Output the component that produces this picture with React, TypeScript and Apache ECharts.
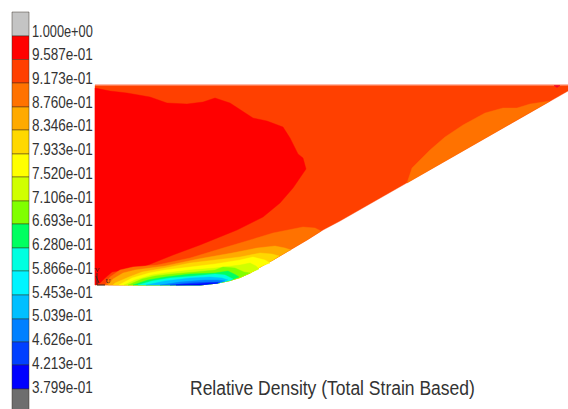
import React, { useEffect, useRef } from "react";
import * as echarts from "echarts";

type P = [number, number];

const legendLabels = ["1.000e+00","9.587e-01","9.173e-01","8.760e-01","8.346e-01","7.933e-01","7.520e-01","7.106e-01","6.693e-01","6.280e-01","5.866e-01","5.453e-01","5.039e-01","4.626e-01","4.213e-01","3.799e-01"];
const legendLabelY = [31,55,79,103,126,150,174,198,221,245,269,293,316,340,364,388];
const legendEdges = [12,36,59.5,83,107,130,154,177,201,224,248,271,295,319,342,365,389,410];
const legendColors = ["#c4c4c4","#ff0000","#ff4000","#ff7200","#ffaa00","#ffd800","#ffff00","#d0ff00","#80ff00","#00ff60","#00ffe0","#00f4ff","#00bfff","#0080ff","#0040ff","#0000ff","#6e6e6e"];

const edge: P[] = [[95,285],[200,285],[218,283],[230,280.5],[240,277.5],[250,273],[262,266],[273,260],[290,250],[307,240],[323,230],[340,221],[368,205],[568,91]];
const domainTop: P[] = [[95,85.5],[568,85.5]];

const redRegion: P[] = [[95,88],[110,91],[127,93],[150,97],[167,103],[187,104],[203,102],[215,98],[230,103],[253,118],[267,121],[283,127],[290,138],[298,154],[303,158],[306,169],[293,188],[280,203],[263,217],[237,230],[200,245],[173,255],[143,267],[123,270],[112,272],[105,278],[100,283],[95,285]];
const upperOrange: P[] = [[407,183],[412,168],[430,150],[445,137],[463,125],[485,113],[503,108],[517,108],[530,104],[550,101]];
const redSpot: P[] = [[554,85.5],[560,85.5],[557,87.5]];
const orangeBand: P[] = [[105,285],[110,277],[120,270],[133,267],[157,265],[190,258],[223,248],[240,243],[273,233],[303,227],[315,228],[321,231]];
const amberBand: P[] = [[108,285],[113,279],[123,273],[135,270],[150,268],[165,266],[198,259],[232,253],[257,248],[275,246],[285,248],[291,250]];
const goldBand: P[] = [[113,285],[115,283],[129,277],[142,272],[165,268],[190,263],[215,260],[240,257],[260,253],[272,254],[279,256]];
const yellowBand: P[] = [[119,285],[132,278],[149,273],[165,270],[190,267],[215,264],[240,260],[253,257],[265,260],[270,263]];
const limeBand: P[] = [[124,285],[135,280],[152,275],[165,273],[190,270],[215,268],[240,265],[250,263],[256,266],[259,269]];
const greenBand: P[] = [[128,285],[142,279],[155,276],[172,274],[195,272],[215,270],[223,267],[235,268],[244,272],[250,273]];
const springBand: P[] = [[133,285],[148,280],[165,277],[190,274],[215,273],[228,271],[236,275],[239,277]];
const tealBand: P[] = [[138,285],[152,281],[170,278],[195,276],[215,274],[225,275],[233,279]];
const skyBand: P[] = [[146,285],[165,281],[190,278],[210,277],[222,278],[228,280]];
const azureBand: P[] = [[160,285],[180,282],[205,280],[218,280],[225,281]];
const royalBand: P[] = [[170,285],[190,283],[210,282],[220,282]];
const blueBand: P[] = [[176,285],[198,284],[212,283],[218,283]];

const closeAlongEdge = (curve: P[]): P[] => {
  const a = curve[0][0], b = curve[curve.length - 1][0];
  return [...curve, ...edge.filter((p) => p[0] > a && p[0] < b).reverse()];
};

const regions: { pts: P[]; color: string }[] = [
  { pts: [...domainTop, ...[...edge].reverse()], color: "#ff4000" },
  { pts: redRegion, color: "#ff0000" },
  { pts: redSpot, color: "#f00030" },
  { pts: closeAlongEdge(upperOrange), color: "#ff7200" },
  { pts: closeAlongEdge(orangeBand), color: "#ff7200" },
  { pts: closeAlongEdge(amberBand), color: "#ffaa00" },
  { pts: closeAlongEdge(goldBand), color: "#ffd800" },
  { pts: closeAlongEdge(yellowBand), color: "#ffff00" },
  { pts: closeAlongEdge(limeBand), color: "#d0ff00" },
  { pts: closeAlongEdge(greenBand), color: "#80ff00" },
  { pts: closeAlongEdge(springBand), color: "#00ff60" },
  { pts: closeAlongEdge(tealBand), color: "#00ffe0" },
  { pts: closeAlongEdge(skyBand), color: "#00bfff" },
  { pts: closeAlongEdge(azureBand), color: "#0080ff" },
  { pts: closeAlongEdge(royalBand), color: "#0040ff" },
  { pts: closeAlongEdge(blueBand), color: "#0000ff" },
];

const topEdgeLine: P[] = [[95,84.5],[568,84.5]];
const triadLines: P[][] = [[[97,273],[97,285],[105,285]],[[96,276],[99,283]]];
const triadLabels: { t: string; at: P }[] = [{ t: "V", at: [97,270] }, { t: "U", at: [108,281] }];
const titleText = "Relative Density (Total Strain Based)";
const titleAt: P = [190, 388];
const barX: P = [12, 29];
const labelX = 32;

export default function App() {
  const ref = useRef<HTMLDivElement>(null);
  useEffect(() => {
    document.body.style.margin = "0";
    document.body.style.background = "#ffffff";
    const chart = echarts.init(ref.current!, undefined, { renderer: "svg" });
    const poly = (api: any, pts: P[], color: string) => ({
      type: "polygon",
      shape: { points: pts.map((p) => api.coord(p)) },
      style: { fill: color, stroke: color, lineWidth: 0.4 },
    });
    const line = (api: any, pts: P[], color: string, w: number) => ({
      type: "polyline",
      shape: { points: pts.map((p) => api.coord(p)) },
      style: { stroke: color, lineWidth: w, fill: "none" },
    });
    chart.setOption({
      animation: false,
      backgroundColor: "#ffffff",
      grid: { left: 0, top: 0, width: 568, height: 409, containLabel: false },
      xAxis: { type: "value", min: 0, max: 568, show: false },
      yAxis: { type: "value", min: 0, max: 409, inverse: true, show: false },
      series: [
        {
          type: "custom",
          clip: false,
          silent: true,
          data: regions.map((_, i) => [i]),
          encode: { x: 0 },
          renderItem: (params: any, api: any) => {
            const r = regions[params.dataIndex];
            return poly(api, r.pts, r.color);
          },
        },
        {
          type: "custom",
          clip: false,
          silent: true,
          data: [[0]],
          encode: { x: 0 },
          renderItem: (_p: any, api: any) => ({
            type: "group",
            children: [
              line(api, topEdgeLine, "#ffb8a8", 1),
              ...triadLines.map((l) => line(api, l, "#3a2a20", 1)),
              ...triadLabels.map((l) => {
                const c = api.coord(l.at);
                return {
                  type: "text",
                  x: c[0],
                  y: c[1],
                  style: { text: l.t, font: "7px 'Liberation Serif'", fill: "#332222", align: "center", verticalAlign: "middle" },
                };
              }),
            ],
          }),
        },
        {
          type: "custom",
          clip: false,
          silent: true,
          data: legendColors.map((_, i) => [i]),
          encode: { x: 0 },
          renderItem: (params: any, api: any) => {
            const i = params.dataIndex;
            const a = api.coord([barX[0], legendEdges[i]]);
            const b = api.coord([barX[1], legendEdges[i + 1]]);
            return {
              type: "rect",
              shape: { x: a[0], y: a[1], width: b[0] - a[0], height: b[1] - a[1] },
              style: { fill: legendColors[i], stroke: "rgba(50,40,30,0.45)", lineWidth: 1 },
            };
          },
        },
        {
          type: "custom",
          clip: false,
          silent: true,
          data: legendLabels.map((_, i) => [i]),
          encode: { x: 0 },
          renderItem: (params: any, api: any) => {
            const i = params.dataIndex;
            const c = api.coord([labelX, legendLabelY[i]]);
            return {
              type: "text",
              x: c[0],
              y: c[1],
              scaleX: i === 0 ? 0.8 : 0.845,
              style: { text: legendLabels[i], font: "16px 'Liberation Sans'", fill: "#333333", align: "left", verticalAlign: "middle" },
            };
          },
        },
        {
          type: "custom",
          clip: false,
          silent: true,
          data: [[0]],
          encode: { x: 0 },
          renderItem: (_p: any, api: any) => {
            const c = api.coord(titleAt);
            return {
              type: "text",
              x: c[0],
              y: c[1],
              scaleX: 0.875,
              style: { text: titleText, font: "20px 'Liberation Sans'", fill: "#333333", align: "left", verticalAlign: "middle" },
            };
          },
        },
      ],
    });
    return () => chart.dispose();
  }, []);
  return <div ref={ref} style={{ width: 568, height: 409 }} />;
}
